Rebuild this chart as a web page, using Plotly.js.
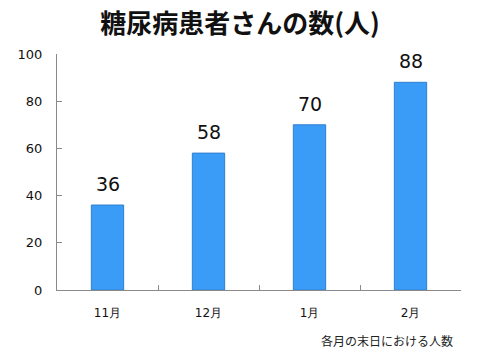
<!DOCTYPE html>
<html><head><meta charset="utf-8">
<script src="https://cdn.plot.ly/plotly-3.0.1.min.js"></script>
<style>body{margin:0}#c{width:480px;height:360px}</style>
</head><body><div id="c"></div>
<script>
const months = ['11月','12月','1月','2月'];
const patients = [36, 58, 70, 88];
const yTicks = [0, 20, 40, 60, 80, 100];
const titleText = '糖尿病患者さんの数(人)';
const noteText = '各月の末日における人数';

const trace = {
  type: 'bar', x: months, y: patients,
  width: 0.32,
  marker: {color: '#3a9cf7', line: {color: '#2f7fcf', width: 1}},
  hoverinfo: 'none'
};
const labelAnns = months.map((m, i) => ({
  x: m, y: patients[i], xref: 'x', yref: 'y', text: String(patients[i]),
  showarrow: false, yanchor: 'bottom', yshift: 8,
  font: {size: 19, color: '#111', family: 'DejaVu Sans, Verdana, sans-serif'}
}));
const layout = {
  width: 480, height: 360,
  margin: {l: 57, r: 19, t: 54, b: 70},
  paper_bgcolor: '#fff', plot_bgcolor: '#fff',
  font: {family: 'DejaVu Sans, Verdana, sans-serif', color: '#111'},
  title: {text: '<b>' + titleText + '</b>', x: 0.5, xanchor: 'center', y: 0.935, yanchor: 'middle',
          font: {size: 26, family: 'Noto Sans CJK JP, sans-serif', color: '#111'}},
  showlegend: false,
  xaxis: {type: 'category', showline: true, linecolor: '#8a8a8a', linewidth: 1,
          ticks: 'inside', tickson: 'boundaries', ticklen: 5, tickcolor: '#8a8a8a',
          tickfont: {size: 12, family: 'DejaVu Sans, Verdana, sans-serif'}, ticklabelstandoff: 12,
          showgrid: false, zeroline: false, fixedrange: true},
  yaxis: {range: [0, 100], tickvals: yTicks, showline: true, linecolor: '#8a8a8a', linewidth: 1,
          ticks: 'inside', ticklen: 5, tickcolor: '#8a8a8a',
          tickfont: {size: 13}, ticklabelstandoff: 11,
          showgrid: false, zeroline: false, fixedrange: true},
  annotations: labelAnns.concat([{text: noteText, xref: 'paper', yref: 'paper', x: 0.985, y: -0.215,
                 xanchor: 'right', yanchor: 'middle', showarrow: false,
                 font: {size: 12, family: 'Noto Sans CJK JP, sans-serif', color: '#222'}}])
};
Plotly.newPlot('c', [trace], layout, {displayModeBar: false, staticPlot: true});
</script></body></html>
